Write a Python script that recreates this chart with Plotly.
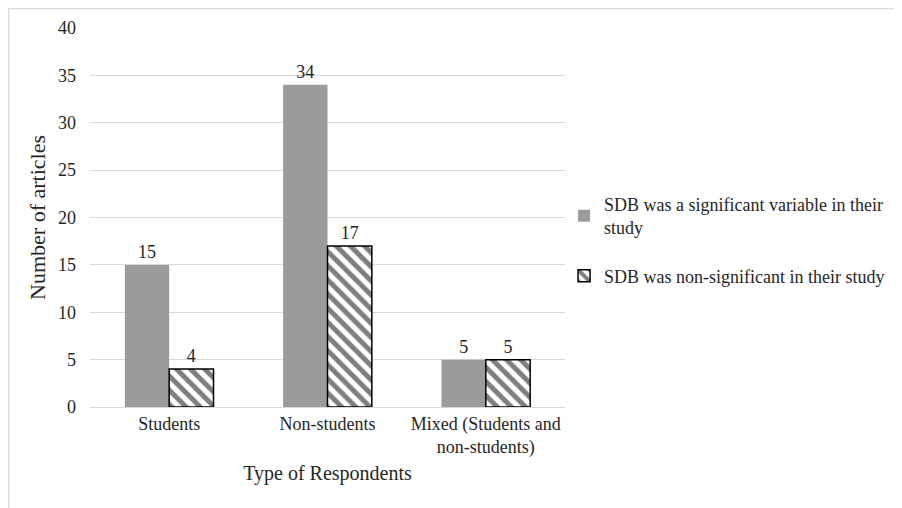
import plotly.graph_objects as go

categories = ["Students", "Non-students", "Mixed (Students and<br>non-students)"]
significant = [15, 34, 5]
non_significant = [4, 17, 5]
series_names = ["SDB was a significant variable in their<br>study", "SDB was non-significant in their study"]
y_ticks = [0, 5, 10, 15, 20, 25, 30, 35, 40]

FONT = "Liberation Serif"
TXT = "#262626"

fig = go.Figure()
fig.add_trace(go.Bar(
    x=categories, y=significant, name=series_names[0],
    marker=dict(color="#9b9b9b", line=dict(width=0)),
    text=significant, textposition="outside", cliponaxis=False,
    textfont=dict(family=FONT, size=18, color=TXT),
    legendgroup="a",
))
fig.add_trace(go.Bar(
    x=categories, y=non_significant, name=series_names[1],
    marker=dict(color="white", line=dict(color="black", width=1.5),
                pattern=dict(shape="\\", fgcolor="black", bgcolor="white", size=10, solidity=0.5)),
    text=non_significant, textposition="outside", cliponaxis=False,
    textfont=dict(family=FONT, size=18, color=TXT),
    legendgroup="b",
))

fig.update_layout(
    width=894, height=500,
    margin=dict(l=82, r=337, t=20, b=101, autoexpand=False),
    paper_bgcolor="white", plot_bgcolor="white",
    barmode="group", bargap=0.44, bargroupgap=0,
    font=dict(family=FONT, size=18, color=TXT),
    showlegend=True,
    legend=dict(x=0.998, y=0.44, xanchor="left", yanchor="middle",
                traceorder="grouped", tracegroupgap=22,
                font=dict(family=FONT, size=18, color=TXT),
                itemwidth=30, bgcolor="rgba(0,0,0,0)"),
    xaxis=dict(showgrid=False, showline=True, linecolor="#d9d9d9", linewidth=1,
               ticks="", tickfont=dict(family=FONT, size=18, color=TXT),
               title=dict(text="Type of Respondents", font=dict(family=FONT, size=20, color=TXT), standoff=8)),
    yaxis=dict(range=[0, 40], tickvals=y_ticks, showgrid=True, gridcolor="#d9d9d9", gridwidth=1,
               zeroline=False, showline=False, ticks="", ticklabelstandoff=13,
               tickfont=dict(family=FONT, size=18, color=TXT),
               title=dict(text="Number of articles", font=dict(family=FONT, size=22, color=TXT), standoff=6)),
    shapes=[
        dict(type="line", xref="paper", yref="paper", x0=-0.1716, x1=1.71, y0=1.0515, y1=1.0515,
             line=dict(color="#d9d9d9", width=1.5)),
        dict(type="line", xref="paper", yref="paper", x0=-0.1716, x1=-0.1716, y0=1.0515, y1=-0.27,
             line=dict(color="#d9d9d9", width=1.5)),
    ],
)

fig.write_html("out.html")
